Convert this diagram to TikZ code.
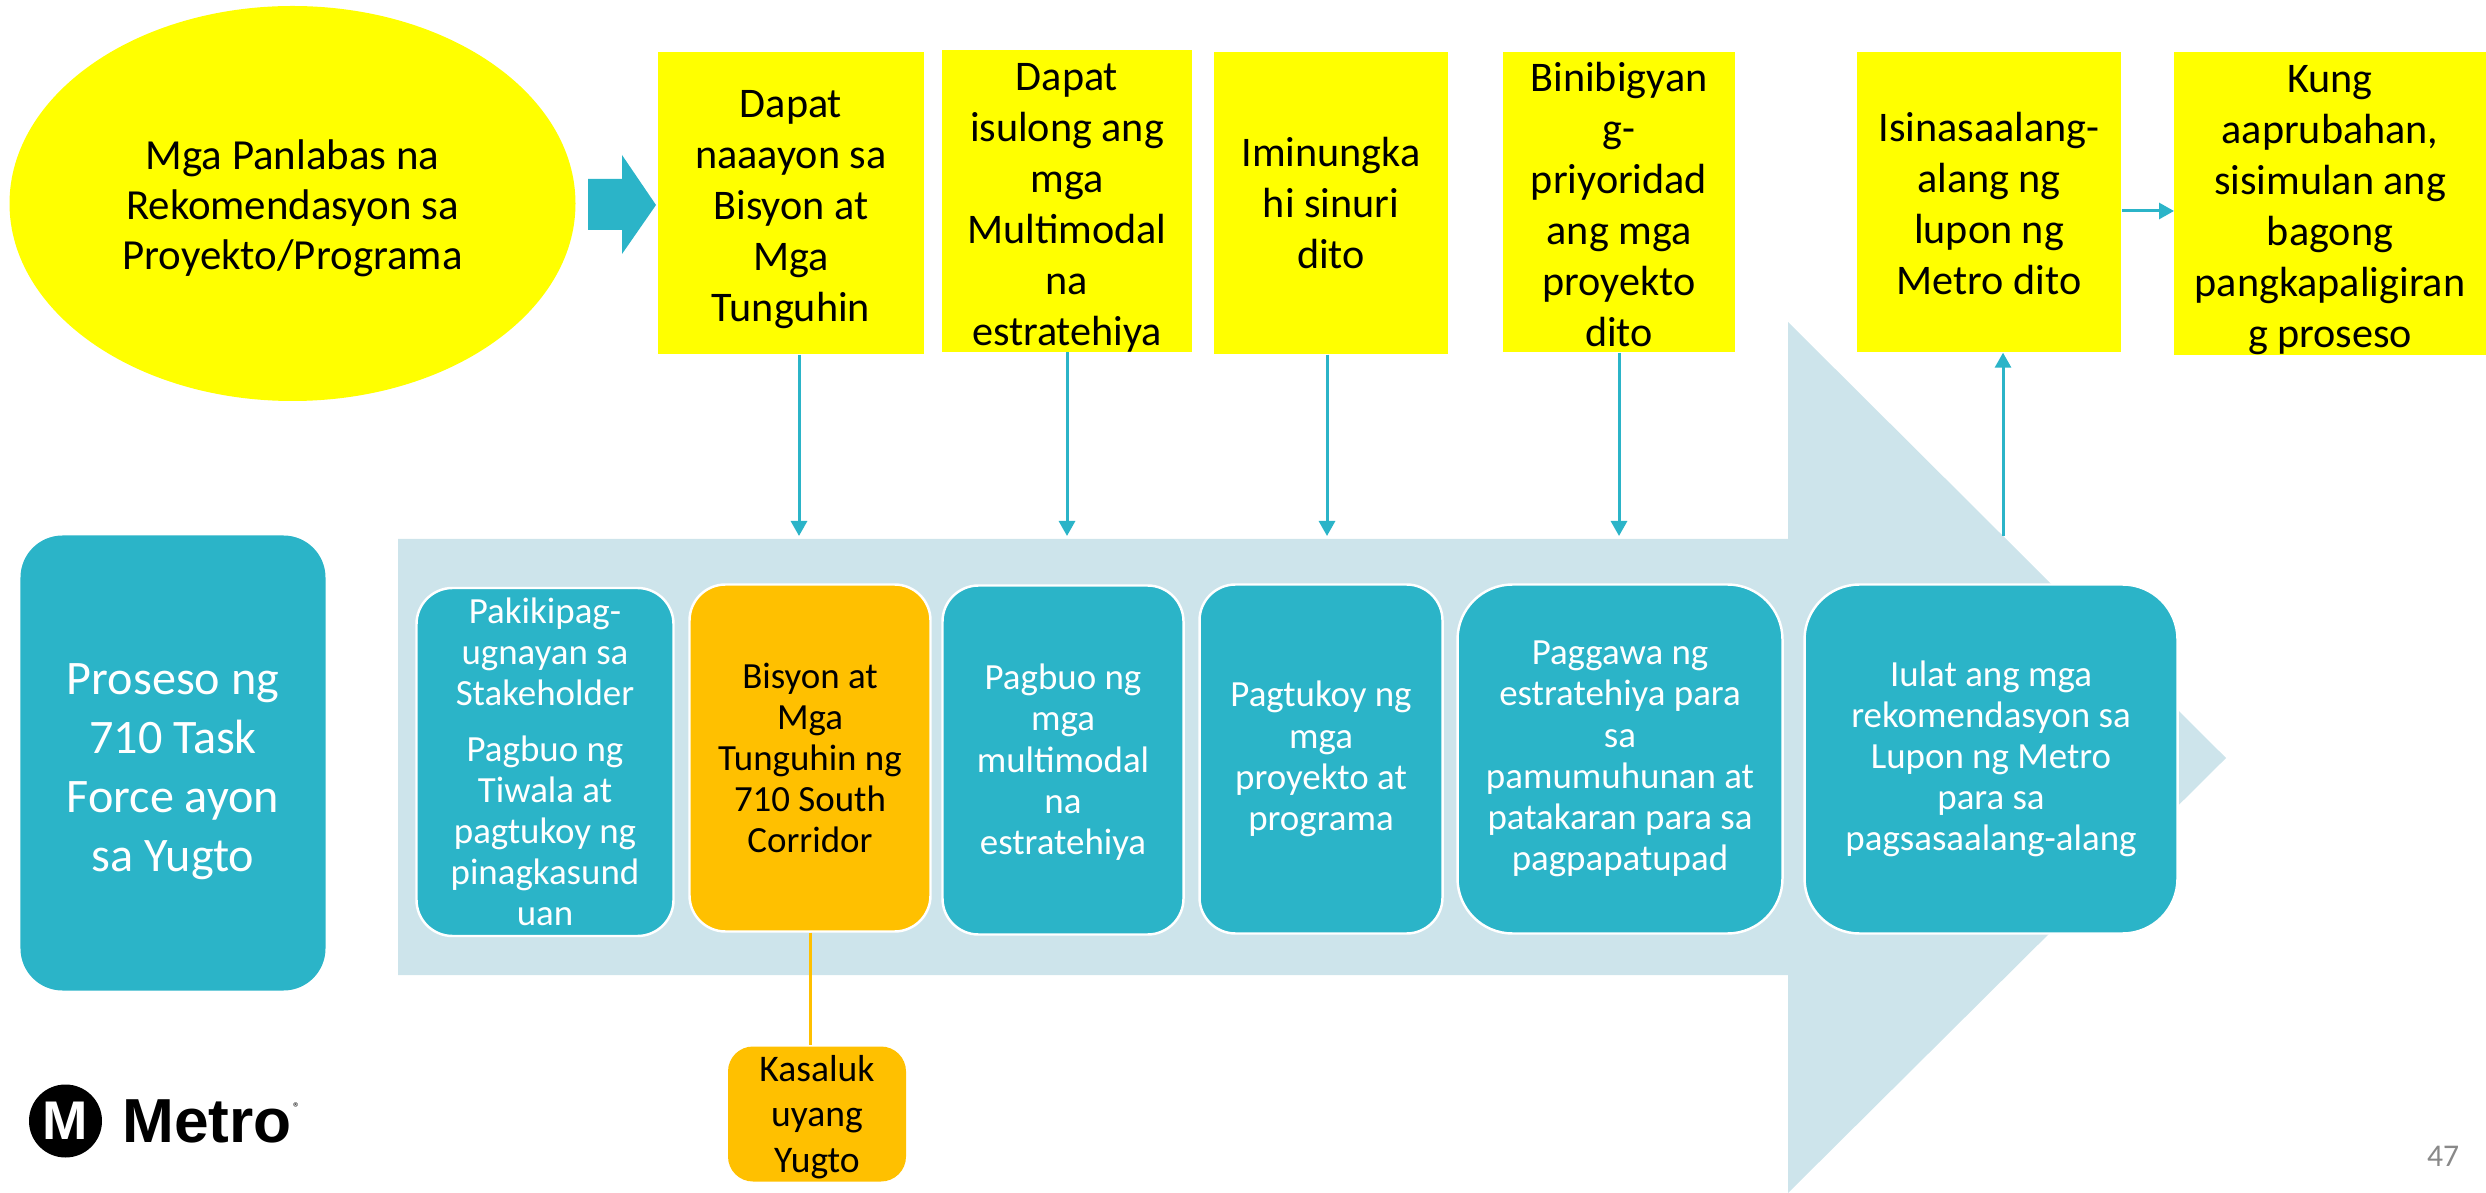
\documentclass[tikz,border=0pt]{standalone}
\usepackage{xcolor}
\usepackage{fontspec}
\setmainfont{Carlito}
\newfontfamily\logofont{Liberation Sans}
\usetikzlibrary{shapes.geometric, arrows.meta, positioning}
\definecolor{phasecolor}{RGB}{43,180,200}
\definecolor{bandcolor}{RGB}{205,228,235}
\definecolor{notecolor}{RGB}{255,255,0}
\definecolor{currentcolor}{RGB}{255,192,0}
\definecolor{pagecolor}{RGB}{137,137,137}
\newcommand{\droptext}[1]{\rule{0pt}{#1}}

\begin{document}
\begin{tikzpicture}[
    note/.style={rectangle, fill=notecolor, inner sep=0pt, align=center, font=\fontsize{12}{14.5}\selectfont},
    phase/.style={rectangle, draw=white, line width=0.7pt, fill=phasecolor, rounded corners=0.36cm, inner sep=0pt, align=center, text=white, font=\fontsize{10.5}{11.7}\selectfont},
    arrow/.style={-{Triangle[length=1.5mm, width=1.6mm]}, phasecolor, line width=0.85pt}
]
    \useasboundingbox (0,0) rectangle (24.86,-11.93);

    % Long background arrow
    \fill[bandcolor] (3.98,-5.39) -- (17.88,-5.39) -- (17.88,-3.22) -- (22.26,-7.58) -- (17.88,-11.93) -- (17.88,-9.75) -- (3.98,-9.75) -- cycle;

    % Outside recommendations
    \node[ellipse, fill=notecolor, minimum width=5.66cm, minimum height=3.95cm, inner sep=0pt, align=center, font=\fontsize{12.2}{14.2}\selectfont] (panlabas) at (2.925,-2.035) {\droptext{0.40cm}Mga Panlabas na\\Rekomendasyon sa\\Proyekto/Programa};
    \fill[phasecolor] (5.88,-1.79) -- (6.22,-1.79) -- (6.22,-1.55) -- (6.56,-2.05) -- (6.22,-2.54) -- (6.22,-2.30) -- (5.88,-2.30) -- cycle;

    % Notes along the top
    \node[note, minimum width=2.66cm, minimum height=3.02cm] (naaayon) at (7.91,-2.03) {\droptext{0.40cm}Dapat\\naaayon sa\\Bisyon at\\Mga\\Tunguhin};
    \node[note, minimum width=2.50cm, minimum height=2.98cm] (isulong) at (10.67,-2.01) {\droptext{0.40cm}Dapat\\isulong ang\\mga\\Multimodal\\na\\estratehiya};
    \node[note, minimum width=2.34cm, minimum height=3.02cm] (sinuri) at (13.31,-2.03) {Iminungka\\hi sinuri\\dito};
    \node[note, minimum width=2.32cm, minimum height=3.00cm] (priyoridad) at (16.19,-2.02) {\droptext{0.34cm}Binibigyan\\g-\\priyoridad\\ang mga\\proyekto\\dito};
    \node[note, minimum width=2.64cm, minimum height=3.00cm] (lupon) at (19.89,-2.02) {\droptext{0.33cm}Isinasaalang-\\alang ng\\lupon ng\\Metro dito};
    \node[note, minimum width=3.12cm, minimum height=3.03cm] (kung) at (23.30,-2.035) {\droptext{0.40cm}Kung\\aaprubahan,\\sisimulan ang\\bagong\\pangkapaligiran\\g proseso};

    % Task force phases
    \node[phase, draw=none, rounded corners=0.42cm, minimum width=3.05cm, minimum height=4.55cm, font=\fontsize{13.7}{16.8}\selectfont] (proseso) at (1.73,-7.63) {\droptext{0.49cm}Proseso ng\\710 Task\\Force ayon\\sa Yugto};
    \node[phase, minimum width=2.57cm, minimum height=3.48cm] (pakikipag) at (5.45,-7.62) {Pakikipag-\\ugnayan sa\\Stakeholder\\[0.14cm]Pagbuo ng\\Tiwala at\\pagtukoy ng\\pinagkasund\\uan};
    \node[phase, fill=currentcolor, text=black, minimum width=2.41cm, minimum height=3.47cm] (bisyon) at (8.10,-7.58) {Bisyon at\\Mga\\Tunguhin ng\\710 South\\Corridor};
    \node[phase, minimum width=2.41cm, minimum height=3.49cm] (multimodal) at (10.63,-7.60) {\droptext{0.30cm}Pagbuo ng\\mga\\multimodal\\na\\estratehiya};
    \node[phase, minimum width=2.43cm, minimum height=3.49cm] (pagtukoy) at (13.21,-7.59) {Pagtukoy ng\\mga\\proyekto at\\programa};
    \node[phase, rounded corners=0.55cm, minimum width=3.25cm, minimum height=3.49cm] (paggawa) at (16.20,-7.59) {Paggawa ng\\estratehiya para\\sa\\pamumuhunan at\\patakaran para sa\\pagpapatupad};
    \node[phase, rounded corners=0.55cm, minimum width=3.73cm, minimum height=3.49cm] (iulat) at (19.91,-7.59) {Iulat ang mga\\rekomendasyon sa\\Lupon ng Metro\\para sa\\pagsasaalang-alang};
    \node[phase, draw=none, fill=currentcolor, text=black, rounded corners=0.25cm, minimum width=1.78cm, minimum height=1.35cm, font=\fontsize{10.7}{13}\selectfont] (kasalukuyan) at (8.17,-11.14) {\droptext{0.32cm}Kasaluk\\uyang\\Yugto};

    % Arrow end points
    \coordinate (naaayonEnd) at (7.99,-5.36);
    \coordinate (isulongEnd) at (10.67,-5.36);
    \coordinate (sinuriEnd) at (13.27,-5.36);
    \coordinate (priyoridadEnd) at (16.19,-5.36);
    \coordinate (iulatStart) at (20.03,-5.36);
    \coordinate (kungEnd) at (21.74,-2.11);

    % Arrows
    \draw[arrow] (naaayon.south -| naaayonEnd) -- (naaayonEnd);
    \draw[arrow] (isulong) -- (isulongEnd);
    \draw[arrow] (sinuri.south -| sinuriEnd) -- (sinuriEnd);
    \draw[arrow] (priyoridad) -- (priyoridadEnd);
    \draw[arrow] (iulatStart) -- (lupon.south -| iulatStart);
    \draw[arrow] (lupon.east |- kungEnd) -- (kungEnd);
    \draw[currentcolor, line width=0.85pt] (bisyon.south) -- (bisyon.south |- kasalukuyan.north);

    % Logo and page number
    \node[circle, fill=black, minimum size=0.73cm, inner sep=0pt, text=white, font=\logofont\bfseries\fontsize{15.5}{15.5}\selectfont] (logo) at (0.655,-11.21) {M};
    \node[right=0.19cm of logo, inner sep=0pt, font=\logofont\bfseries\fontsize{17.7}{17.7}\selectfont] (metro) {Metro};
    \node[anchor=west, inner sep=0pt, yshift=0.13cm, font=\fontsize{4}{4}\selectfont] (registered) at (metro.east) {®};
    \node[text=pagecolor, font=\fontsize{9}{11}\selectfont] (pagenum) at (24.43,-11.56) {47};
\end{tikzpicture}
\end{document}
